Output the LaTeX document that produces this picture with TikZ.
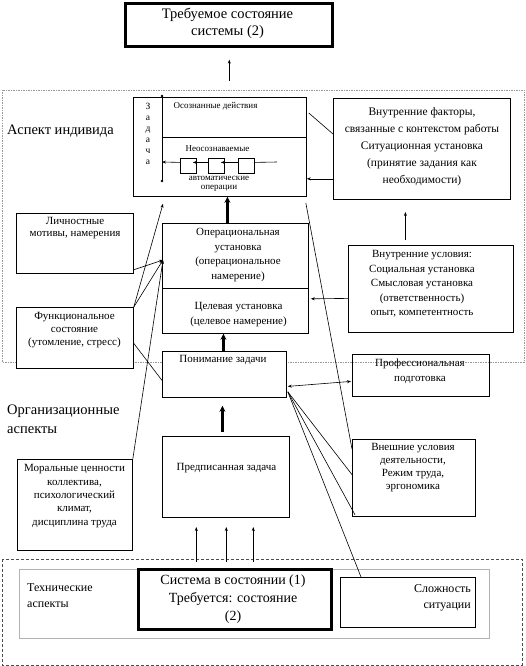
\documentclass[tikz,border=0pt]{standalone}
\usepackage{fontspec}
\setmainfont{Liberation Serif}
\usetikzlibrary{calc,arrows.meta}
\begin{document}
\begin{tikzpicture}[x=1pt,y=-1pt,
  box/.style={draw,line width=0.8pt,inner sep=0pt,anchor=north west},
  thickbox/.style={draw,line width=2.6pt,inner sep=0pt,anchor=north west,fill=white},
  txt/.style={inner sep=0pt,align=center,font=\fontsize{11}{14.5}\selectfont},
  bigtxt/.style={inner sep=0pt,align=center,font=\fontsize{14.5}{17}\selectfont},
  smalltxt/.style={inner sep=0pt,align=center,font=\fontsize{9}{9}\selectfont},
  conn/.style={line width=0.6pt},
  tarrow/.style={line width=0.6pt,-{Stealth[length=4pt,width=3pt]}},
  darrow/.style={line width=0.6pt,{Stealth[length=4pt,width=3pt]}-{Stealth[length=4pt,width=3pt]}},
  fatarrow/.style={line width=2.2pt,-{Stealth[length=6pt,width=6pt]}},
  regind/.style={draw=black!40,line width=0.8pt,dash pattern=on 1.5pt off 1pt},
  regtech/.style={draw=black!70,line width=0.8pt,dash pattern=on 3pt off 2pt},
  dotend/.style={fill=black,inner sep=0pt,minimum size=2.6pt,circle}
]
\useasboundingbox (0,0) rectangle (526,666);
\fill[white] (0,0) rectangle (526,666);

% regions
\draw[regind] (2,90) rectangle (524,362);
\draw[regtech] (2,559) rectangle (522,665);
\draw[draw=black!30,line width=0.8pt] (19,569) rectangle (489,638);

% boxes
\node[thickbox,minimum width=207pt,minimum height=43pt] (top) at (124,2) {};
\node[bigtxt] (topt) at (227.5,23.5) {Требуемое состояние\\системы (2)};

\node[box,minimum width=173pt,minimum height=99pt] (task) at (133,97) {};
\node[box,minimum width=177pt,minimum height=101pt] (fact) at (333,98) {};
\node[txt,font=\fontsize{11.5}{17}\selectfont] (factt) at (422,146.5) {Внутренние факторы,\\связанные с контекстом работы\\Ситуационная установка\\(принятие задания как\\необходимости)};

\node[box,minimum width=165pt,minimum height=87pt] (cond) at (348,245) {};
\node[txt] (condt) at (422,284) {Внутренние условия:\\Социальная установка\\Смысловая установка\\(ответственность)\\опыт, компетентность};

\node[box,minimum width=146pt,minimum height=110pt] (op) at (162,223) {};
\draw[line width=0.8pt] ($(op.north west)+(0,65)$) -- ($(op.north east)+(0,65)$);
\node[txt] (opt) at (238,255) {Операциональная\\установка\\(операциональное\\намерение)};
\node[txt] (goalt) at (238.5,314.5) {Целевая установка\\(целевое намерение)};

\node[box,fill=white,minimum width=124pt,minimum height=46pt] (und) at (162,351) {};
\node[txt] (undt) at (223,360) {Понимание задачи};

\node[box,minimum width=127pt,minimum height=81pt] (presc) at (162,436) {};
\node[txt] (presct) at (226.5,468) {Предписанная задача};

\node[box,minimum width=137pt,minimum height=42pt] (prof) at (352,354) {};
\node[txt] (proft) at (420,371) {Профессиональная\\подготовка};

\node[box,minimum width=123pt,minimum height=77pt] (ext) at (352,439) {};
\node[txt,font=\fontsize{11}{13}\selectfont] (extt) at (413,468) {Внешние условия\\деятельности,\\Режим труда,\\эргономика};

\node[box,minimum width=117pt,minimum height=60pt] (pers) at (16,213) {};
\node[txt,font=\fontsize{11}{12.5}\selectfont] (perst) at (75,228) {Личностные\\мотивы, намерения};

\node[box,fill=white,minimum width=117pt,minimum height=61pt] (func) at (16,307) {};
\node[txt,font=\fontsize{11}{13}\selectfont] (funct) at (74.5,330) {Функциональное\\состояние\\(утомление, стресс)};

\node[box,minimum width=115pt,minimum height=91pt] (moral) at (17,459) {};
\node[txt,font=\fontsize{11}{13.3}\selectfont] (moralt) at (74.5,496) {Моральные ценности\\коллектива,\\психологический\\климат,\\дисциплина труда};

\node[thickbox,minimum width=193pt,minimum height=60pt] (sys) at (137,568) {};
\node[bigtxt,font=\fontsize{14}{18}\selectfont] (syst) at (233,599) {Система в состоянии (1)\\Требуется: состояние\\(2)};

\node[box,minimum width=135pt,minimum height=50pt] (compl) at (340,577) {};
\node[txt,align=right,anchor=east,font=\fontsize{12}{16}\selectfont] (complt) at (471,598) {Сложность\\ситуации};

% region labels
\node[bigtxt,anchor=west] (lind) at (7,131) {Аспект индивида};
\node[bigtxt,anchor=west,align=left,font=\fontsize{14.5}{19}\selectfont] (lorg) at (7,419.5) {Организационные\\аспекты};
\node[txt,anchor=west,align=left,font=\fontsize{12}{16}\selectfont] (ltech) at (27,596) {Технические\\аспекты};

% task box internals
\node[smalltxt,font=\fontsize{9.5}{11}\selectfont] (zad) at (148,133.5) {З\\а\\д\\а\\ч\\а};
\node[smalltxt] (consc) at (215.5,106) {Осознанные действия};
\node[smalltxt] (uncons) at (217.5,149) {Неосознаваемые};
\node[smalltxt] (autot) at (219,183.5) {автоматические\\операции};
\draw[conn] ($(task.north west)+(29,-1)$) coordinate (vtop) -- ($(task.north west)+(29,84)$) coordinate (vbot);
\node[dotend] (vtopd) at (vtop) {};
\node[dotend] (vbotd) at (vbot) {};
\draw[conn] ($(task.north west)+(29,40)$) -- ($(task.north east)+(0,40)$);
\node[box,minimum width=16pt,minimum height=15pt] (sq1) at (180,158) {};
\node[box,minimum width=16pt,minimum height=15pt] (sq2) at (208,158) {};
\node[box,minimum width=16pt,minimum height=15pt] (sq3) at (238,158) {};
\draw[conn] ($(task.north west)+(144,65)$) coordinate (lineend) -- ($(sq3.east)+(0,-3.5)$);
\draw[tarrow] ($(sq3.west)+(0,-3.5)$) -- ($(sq2.east)+(-4,-3.5)$);
\draw[tarrow] ($(sq2.west)+(0,-3.5)$) -- ($(sq1.east)+(-4,-3.5)$);
\draw[tarrow] ($(sq1.west)+(0,-3.5)$) -- ($(task.north west)+(29,65)$);

% connectors
\draw[tarrow] ($(top.south)+(0.5,33)$) -- ($(top.south)+(0.5,12)$);
\draw[fatarrow] ($(op.north)+(-8,0)$) -- ($(task.south)+(7.5,0)$);
\draw[fatarrow] ($(und.north)+(-1,0)$) -- ($(op.south)+(-12,0)$);
\draw[fatarrow] ($(presc.north)+(-3.5,-4)$) -- ($(und.south)+(-2,8)$);
\foreach \dx in {-38.5,-8.5,18.5}
  \draw[tarrow] ($(sys.north)+(\dx,-6)$) -- ($(sys.north)+(\dx,-41)$);

\draw[tarrow] (func.north east) -- ($(task.south west)+(30,7)$);
\draw[tarrow] (func.north east) -- ($(op.north west)+(1,37)$);
\draw[tarrow] ($(pers.south east)+(0,-4)$) -- ($(op.north west)+(1,37)$);
\draw[tarrow] (moral.north east) -- ($(op.north west)+(1,37)$);
\draw[conn] ($(func.east)+(0,5.5)$) -- ($(und.west)+(0,6)$);

\draw[conn] ($(task.north east)+(2,16)$) -- ($(fact.north west)+(0,36)$);
\draw[tarrow] ($(fact.south west)+(0,-21)$) -- ($(task.south east)+(0,-18)$);
\draw[tarrow] ($(cond.north)+(-25.5,-5)$) -- ($(cond.north)+(-25.5,-33)$);
\draw[tarrow] ($(cond.west)+(0,9.5)$) -- ($(op.south east)+(2,-35)$);
\draw[conn] ($(task.south east)+(-1,6)$) -- ($(ext.north west)+(0,10)$);

\draw[darrow] ($(und.east)+(1,12)$) -- ($(prof.west)+(-1,6)$);
\coordinate (ucorner) at ($(und.south east)+(1,-6)$);
\draw[conn] (ucorner) -- ($(ext.west)+(1,-2)$);
\draw[conn] (ucorner) -- ($(ext.south west)+(3,-2)$);
\draw[conn] (ucorner) -- ($(compl.north west)+(21,0)$);
\end{tikzpicture}
\end{document}
